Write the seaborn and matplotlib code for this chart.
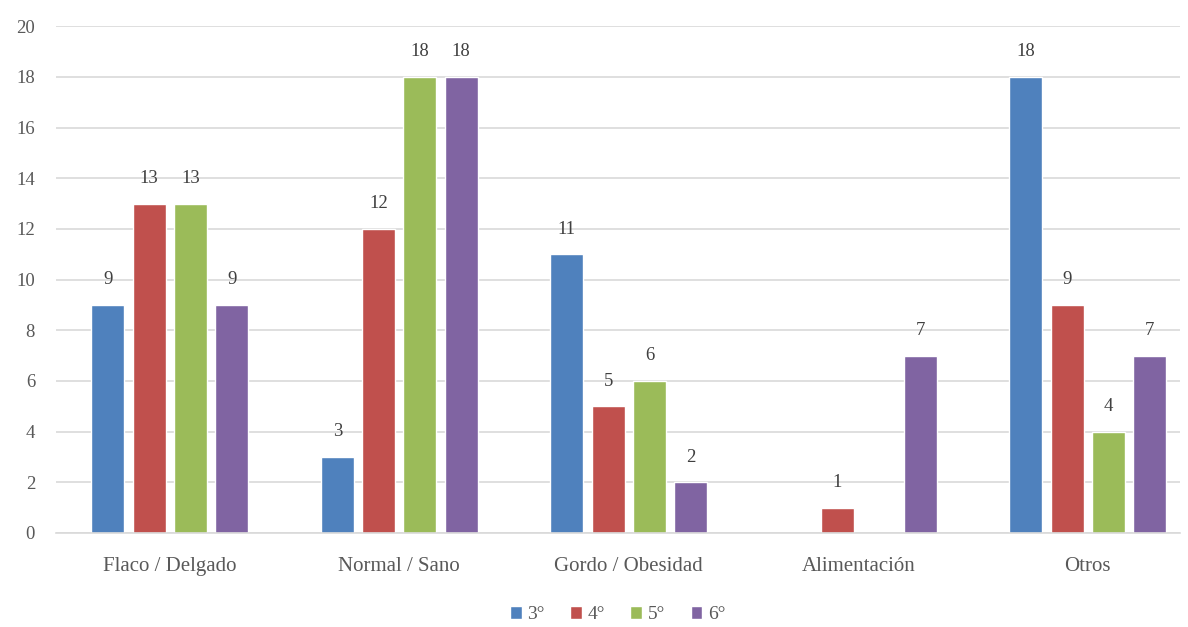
import numpy as np
import pandas as pd
import matplotlib
matplotlib.use("Agg")
import matplotlib.pyplot as plt
import seaborn as sns

categories = ["Flaco / Delgado", "Normal / Sano", "Gordo / Obesidad", "Alimentación", "Otros"]
grades = ["3°", "4°", "5°", "6°"]
vals_3 = [9, 3, 11, np.nan, 18]
vals_4 = [13, 12, 5, 1, 9]
vals_5 = [13, 18, 6, np.nan, 4]
vals_6 = [9, 18, 2, 7, 7]
colors = ["#4F81BD", "#C0504D", "#9BBB59", "#8064A2"]

series = [vals_3, vals_4, vals_5, vals_6]
df = pd.DataFrame({
    "categoria": np.tile(categories, len(grades)),
    "grado": np.repeat(grades, len(categories)),
    "valor": np.concatenate(series),
})

sns.set_theme(style="white")
plt.rcParams["font.family"] = ["Liberation Serif", "DejaVu Serif"]

fig, ax = plt.subplots(figsize=(11.88, 6.27), dpi=100)
fig.subplots_adjust(left=0.047, right=0.993, top=0.958, bottom=0.15)

sns.barplot(data=df, x="categoria", y="valor", hue="grado", order=categories,
            hue_order=grades, palette=colors, width=0.72, gap=0.2,
            saturation=1, ax=ax, legend=True)

# value labels above each drawn bar
for cont in ax.containers:
    for bar in cont:
        if bar is None:
            continue
        h = bar.get_height()
        if np.isnan(h):
            continue
        ax.annotate(f"{int(h)}", (bar.get_x() + bar.get_width() / 2, h),
                    xytext=(0, 12), textcoords="offset points",
                    ha="center", va="bottom", fontsize=13.5, color="#404040")

ax.set_ylim(0, 20)
ax.set_yticks(range(0, 21, 2))
ax.yaxis.grid(True, color="#D9D9D9", linewidth=1.2)
ax.set_axisbelow(True)
for s in ["top", "right", "left"]:
    ax.spines[s].set_visible(False)
ax.spines["bottom"].set_color("#D9D9D9")
ax.spines["bottom"].set_linewidth(1.2)
ax.tick_params(axis="y", length=0, labelsize=13.5, colors="#595959", pad=15)
ax.tick_params(axis="x", length=0, labelsize=15, colors="#595959", pad=17)
ax.set_xlabel("")
ax.set_ylabel("")
ax.set_xlim(-0.497, 4.401)

leg = ax.legend(loc="upper center", bbox_to_anchor=(0.5, -0.122), ncol=4, frameon=False,
                fontsize=14, handlelength=0.6, handleheight=0.6, handletextpad=0.3,
                columnspacing=1.3, labelcolor="#595959", borderpad=0.1)

fig.savefig("out.png", dpi=100)
